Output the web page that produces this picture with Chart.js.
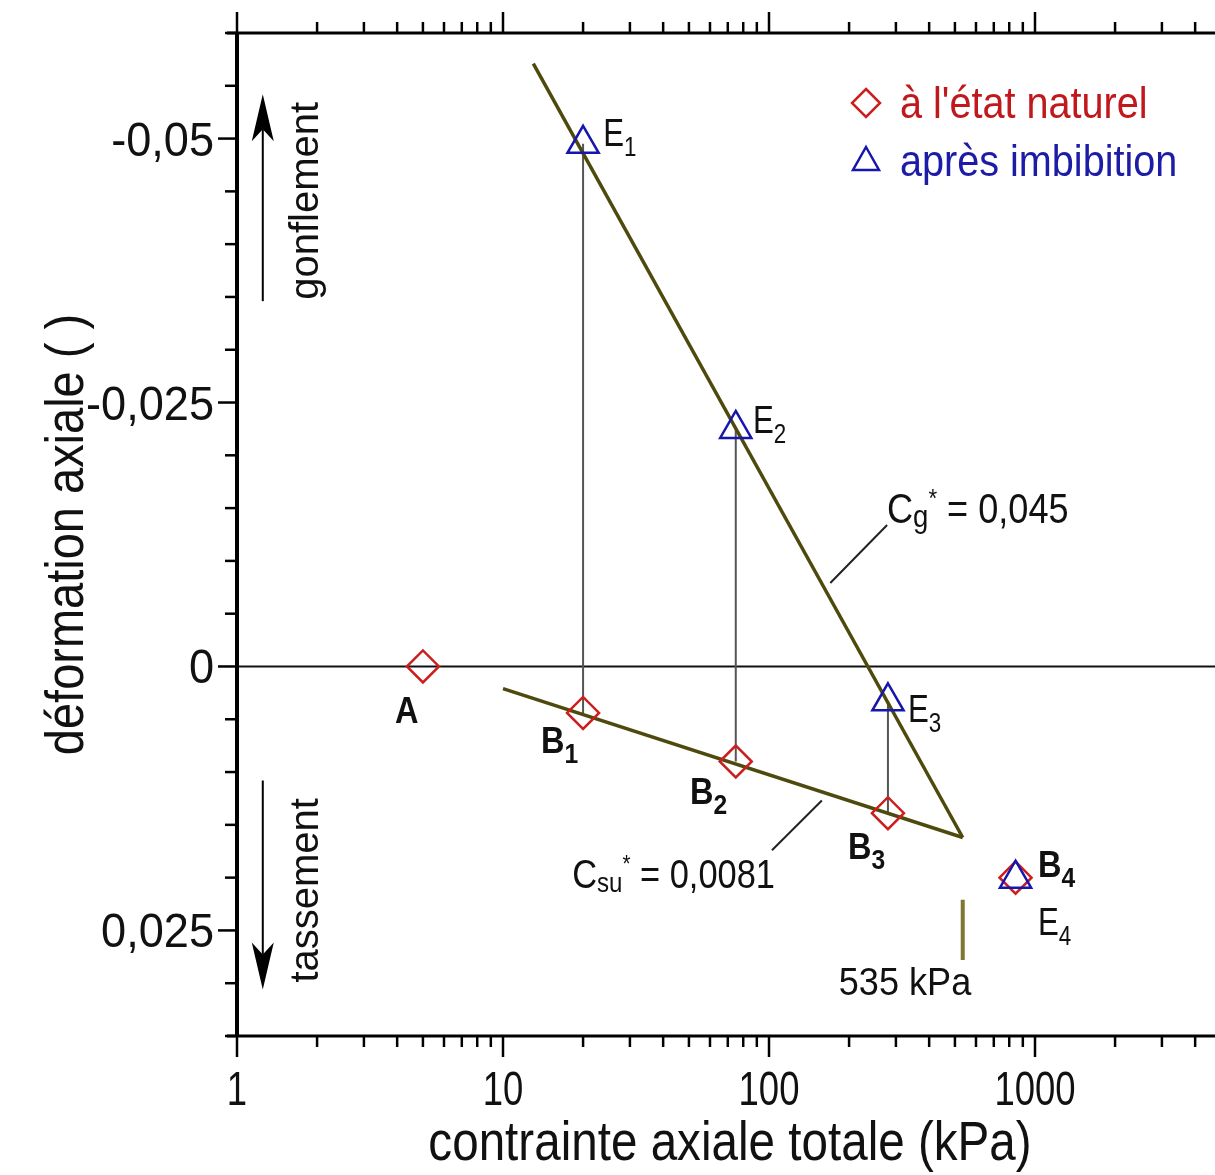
<!DOCTYPE html>
<html>
<head>
<meta charset="utf-8">
<script src="https://cdn.jsdelivr.net/npm/chart.js@4.4.1/dist/chart.umd.min.js"></script>
<style>
  html, body { margin: 0; padding: 0; background: #fff; }
  #wrap { width: 1215px; height: 1175px; position: relative; }
</style>
</head>
<body>
<div id="wrap"><canvas id="chart"></canvas></div>
<script>
// points: stress (kPa) / axial strain
var natX = [5, 20, 75, 280, 845];
var natY = [0, 0.0044, 0.0090, 0.0139, 0.0200];
var imbX = [20, 75, 280, 845];
var imbY = [-0.0495, -0.0225, 0.0033, 0.0201];

// fitted lines and 535 kPa mark
var cgX = [13, 535];
var cgY = [-0.0571, 0.0162];
var csuX = [10, 535];
var csuY = [0.0021, 0.0162];
var markX = [535, 535];
var markY = [0.0221, 0.0278];

// axes
var xMin = 1, xMax = 4750, yMin = -0.06, yMax = 0.035;
var xTicks = [1, 10, 100, 1000];
var xTickLabels = ['1', '10', '100', '1000'];
var yTicks = [-0.05, -0.025, 0, 0.025];
var yTickLabels = ['-0,05', '-0,025', '0', '0,025'];

// point labels (left / baseline, data units)
var labelText = ['A', 'B', 'B', 'B', 'B', 'E', 'E', 'E', 'E'];
var labelSub = ['', '1', '2', '3', '4', '1', '2', '3', '4'];
var labelX = [3.93, 13.9, 50.5, 198, 1026, 23.8, 87.1, 333, 1026];
var labelY = [0.0054, 0.0082, 0.0130, 0.0182, 0.0199, -0.0493, -0.0221, 0.0053, 0.0254];
var labelBold = [true, true, true, true, true, false, false, false, false];

// callouts
var cgCallX = [170, 278];
var cgCallY = [-0.0079, -0.0134];
var csuCallX = [102.6, 158];
var csuCallY = [0.0174, 0.0127];
var cgTextPos = [277.7, -0.0136];
var csuTextPos = [18.2, 0.0210];
var markTextPos = [324.6, 0.0311];

// direction arrows
var arrowX = 1.25;
var upArrowY = [-0.0346, -0.0542];
var downArrowY = [0.0108, 0.0306];
var arrowTextX = 2.02;
var upTextY = -0.0441;
var downTextY = 0.0212;

var RED = '#cc1e1e';
var BLUE = '#1616ad';
var OLIVE = 'rgb(78,74,14)';
var FONT = '"Liberation Sans", Arial, sans-serif';

function pts(xs, ys) {
    return xs.map(function (x, i) { return {x: x, y: ys[i]}; });
}

function lineSet(data, color, width) {
    return {
        data: data, showLine: true, pointRadius: 0,
        borderColor: color, borderWidth: width, fill: false
    };
}

function text(ctx, s, x, y, o) {
    ctx.save();
    ctx.translate(x, y);
    if (o.rot) ctx.rotate(o.rot);
    ctx.scale(o.sx || 1, 1);
    ctx.font = (o.bold ? 'bold ' : '') + o.size + 'px ' + FONT;
    ctx.fillStyle = o.color || '#111';
    ctx.textAlign = o.align || 'left';
    ctx.textBaseline = 'alphabetic';
    ctx.fillText(s, 0, 0);
    var w = ctx.measureText(s).width * (o.sx || 1);
    ctx.restore();
    return w;
}

function rich(ctx, parts, x, y, sx) {
    parts.forEach(function (p) {
        x += text(ctx, p[0], x, y + (p[2] || 0), {size: p[1], sx: sx, bold: p[3]});
    });
}

function line(ctx, x1, y1, x2, y2, w, c) {
    ctx.beginPath();
    ctx.moveTo(x1, y1);
    ctx.lineTo(x2, y2);
    ctx.lineWidth = w;
    ctx.strokeStyle = c;
    ctx.stroke();
}

var datasets = [];
datasets.push({
    data: pts(imbX, imbY), pointStyle: 'triangle', pointRadius: 18,
    pointBorderWidth: 2.5, pointBorderColor: BLUE, pointBackgroundColor: 'rgba(0,0,0,0)'
});
datasets.push({
    data: pts(natX, natY), pointStyle: 'rectRot', pointRadius: 16,
    pointBorderWidth: 2.5, pointBorderColor: RED, pointBackgroundColor: 'rgba(0,0,0,0)'
});
datasets.push(lineSet(pts(cgX, cgY), OLIVE, 3.5));
datasets.push(lineSet(pts(csuX, csuY), OLIVE, 3.5));
datasets.push(lineSet(pts(markX, markY), 'rgb(128,120,50)', 4));
datasets.push(lineSet(pts(cgCallX, cgCallY), '#222', 2));
datasets.push(lineSet(pts(csuCallX, csuCallY), '#222', 2));
for (var i = 0; i < 3; i++) {
    datasets.push(lineSet([{x: imbX[i], y: imbY[i]}, {x: natX[i + 1], y: natY[i + 1]}], '#555', 2));
}
datasets.push(lineSet(pts([xMin, xMax], [0, 0]), '#111', 2));

var decor = {
    id: 'decor',
    afterDraw: function (chart) {
        var ctx = chart.ctx;
        var xs = chart.scales.x, ys = chart.scales.y;
        var a = chart.chartArea;
        var X = function (v) { return xs.getPixelForValue(v); };
        var Y = function (v) { return ys.getPixelForValue(v); };

        // frame
        ctx.save();
        line(ctx, a.left, a.top - 1, a.left, a.bottom + 1, 4, '#000');
        line(ctx, a.left - 10, a.top, a.right, a.top, 3, '#000');
        line(ctx, a.left - 10, a.bottom, a.right, a.bottom, 3, '#000');

        // log ticks top and bottom
        for (var k = 0; k < 4; k++) {
            for (var m = 1; m < 10; m++) {
                var v = m * Math.pow(10, k);
                if (v > xMax) continue;
                var len = m === 1 ? 21 : 11;
                var px = X(v);
                line(ctx, px, a.top, px, a.top - len, 2.5, '#000');
                line(ctx, px, a.bottom, px, a.bottom + len, 2.5, '#000');
            }
        }
        // y ticks
        for (var j = -12; j <= 7; j++) {
            var py = Y(j * 0.005);
            line(ctx, a.left, py, a.left - (j % 5 === 0 ? 19 : 12), py, 2.5, '#000');
        }

        // tick labels
        xTicks.forEach(function (v, i) {
            text(ctx, xTickLabels[i], X(v), 1105, {size: 48, sx: 0.76, align: 'center'});
        });
        yTicks.forEach(function (v, i) {
            text(ctx, yTickLabels[i], 214, Y(v) + 17, {size: 48, sx: 0.94, align: 'right'});
        });

        // axis titles
        text(ctx, 'contrainte axiale totale (kPa)', (a.left + a.right) / 2 + 4, 1160,
            {size: 56, sx: 0.85, align: 'center'});
        text(ctx, 'déformation axiale ( )', 83, (a.top + a.bottom) / 2,
            {size: 54, sx: 0.87, align: 'center', rot: -Math.PI / 2});

        // arrows
        var ax = X(arrowX);
        var t1 = Y(upArrowY[1]);
        line(ctx, ax, Y(upArrowY[0]), ax, t1 + 35, 2, '#000');
        ctx.beginPath();
        ctx.moveTo(ax, t1);
        ctx.lineTo(ax + 11, t1 + 47);
        ctx.lineTo(ax, t1 + 35);
        ctx.lineTo(ax - 11, t1 + 47);
        ctx.closePath();
        ctx.fillStyle = '#000';
        ctx.fill();
        var t2 = Y(downArrowY[1]);
        line(ctx, ax, Y(downArrowY[0]), ax, t2 - 35, 2, '#000');
        ctx.beginPath();
        ctx.moveTo(ax, t2);
        ctx.lineTo(ax + 11, t2 - 47);
        ctx.lineTo(ax, t2 - 35);
        ctx.lineTo(ax - 11, t2 - 47);
        ctx.closePath();
        ctx.fill();
        text(ctx, 'gonflement', X(arrowTextX), Y(upTextY), {size: 40, sx: 1.0, align: 'center', rot: -Math.PI / 2});
        text(ctx, 'tassement', X(arrowTextX), Y(downTextY), {size: 40, sx: 1.0, align: 'center', rot: -Math.PI / 2});

        // point labels
        labelText.forEach(function (s, i) {
            var b = labelBold[i];
            rich(ctx, [[s, b ? 37 : 39, 0, b], [labelSub[i], 28, 10, b]],
                X(labelX[i]), Y(labelY[i]), b ? 0.88 : 0.8);
        });

        // coefficients
        rich(ctx, [['C', 42], ['g', 32, 4], ['*', 26, -16], [' = 0,045', 42]],
            X(cgTextPos[0]), Y(cgTextPos[1]), 0.86);
        rich(ctx, [['C', 40], ['su', 28, 4], ['*', 24, -16], [' = 0,0081', 40]],
            X(csuTextPos[0]), Y(csuTextPos[1]), 0.86);
        text(ctx, '535 kPa', X(markTextPos[0]), Y(markTextPos[1]), {size: 38, sx: 0.95, align: 'center'});

        // legend
        var lx = 866, l1 = 103, l2 = 161;
        ctx.beginPath();
        ctx.moveTo(lx, l1 - 14); ctx.lineTo(lx + 14, l1); ctx.lineTo(lx, l1 + 14); ctx.lineTo(lx - 14, l1);
        ctx.closePath();
        ctx.lineWidth = 2.5; ctx.strokeStyle = RED; ctx.stroke();
        ctx.beginPath();
        ctx.moveTo(lx, l2 - 14); ctx.lineTo(lx + 13, l2 + 9); ctx.lineTo(lx - 13, l2 + 9);
        ctx.closePath();
        ctx.strokeStyle = BLUE; ctx.stroke();
        text(ctx, "à l'état naturel", 900, 118, {size: 44, sx: 0.9, color: '#c0181c'});
        text(ctx, 'après imbibition', 900, 176, {size: 44, sx: 0.9, color: '#1c1ca6'});
        ctx.restore();
    }
};

var ctx = document.getElementById('chart').getContext('2d');
new Chart(ctx, {
    type: 'scatter',
    data: {datasets: datasets},
    options: {
        responsive: true,
        maintainAspectRatio: false,
        animation: false,
        events: [],
        layout: {autoPadding: false, padding: {top: 33, right: 0, left: 0, bottom: 0}},
        plugins: {legend: {display: false}, tooltip: {enabled: false}},
        scales: {
            x: {
                type: 'logarithmic', min: xMin, max: xMax,
                grid: {display: false}, border: {display: false}, ticks: {display: false},
                afterFit: function (s) {
                    s.height = 139;
                    s.paddingLeft = 0; s.paddingRight = 0;
                }
            },
            y: {
                type: 'linear', min: yMin, max: yMax, reverse: true,
                grid: {display: false}, border: {display: false}, ticks: {display: false},
                afterFit: function (s) {
                    s.width = 237;
                    s.paddingTop = 0; s.paddingBottom = 0;
                }
            }
        }
    },
    plugins: [decor]
});
</script>
</body>
</html>
